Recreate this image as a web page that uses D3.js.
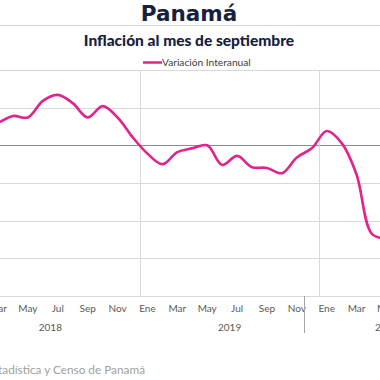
<!DOCTYPE html>
<html><head><meta charset="utf-8">
<script src="https://cdn.jsdelivr.net/npm/d3@7"></script>
<style>body{margin:0;background:#fff;}svg{display:block;}</style>
</head><body>
<svg id="c" width="380" height="380"></svg>
<script>
const monthNames = ["Ene","Feb","Mar","Abr","May","Jun","Jul","Ago","Sep","Oct","Nov","Dic"];
const years = ["2018","2019","2020"];
const months = [
 "2018-01","2018-02","2018-03","2018-04","2018-05","2018-06","2018-07","2018-08","2018-09","2018-10","2018-11","2018-12",
 "2019-01","2019-02","2019-03","2019-04","2019-05","2019-06","2019-07","2019-08","2019-09","2019-10","2019-11","2019-12",
 "2020-01","2020-02","2020-03","2020-04","2020-05","2020-06","2020-07","2020-08","2020-09"];
const variacion = [
 0.22,0.25,0.30,0.39,0.37,0.59,0.67,0.56,0.37,0.52,0.37,0.11,
 -0.11,-0.25,-0.09,-0.04,0.00,-0.26,-0.14,-0.29,-0.30,-0.37,-0.16,-0.04,
 0.19,0.03,-0.39,-1.17,-1.26,-1.45,-1.70,-1.85,-1.95];
const yTicks = [1.0,0.5,0,-0.5,-1.0,-1.5,-2.0];
const title = "Panamá";
const subtitle = "Inflación al mes de septiembre";
const seriesName = "Variación Interanual";
const source = "Fuente: Instituto Nacional de Estadística y Censo de Panamá";

const svg = d3.select("#c");
const font = "Lato, 'DejaVu Sans', sans-serif";
const pink = "#e2238c";
const navy = "#15213f";

const x = d3.scaleBand().domain(months).range([-39.3, -39.3 + 14.94*months.length]);
const y = d3.scaleLinear().domain([-2, 1]).range([296, 70]);
const cx = m => x(m) + x.bandwidth()/2;

// title
svg.append("text").attr("x",189).attr("y",21).attr("text-anchor","middle")
  .attr("font-family","'DejaVu Sans', sans-serif").attr("font-weight","bold").attr("font-size",21.5)
  .attr("fill",navy).text(title);
svg.append("line").attr("x1",0).attr("x2",380).attr("y1",25.5).attr("y2",25.5)
  .attr("stroke","#d9d9d9").attr("stroke-width",1);
svg.append("text").attr("x",189).attr("y",46).attr("text-anchor","middle")
  .attr("font-family",font).attr("font-weight",900).attr("font-size",15.5)
  .attr("fill",navy).text(subtitle);

// legend
svg.append("line").attr("x1",143).attr("x2",162).attr("y1",62.5).attr("y2",62.5)
  .attr("stroke",pink).attr("stroke-width",2.5);
svg.append("text").attr("x",162).attr("y",66).attr("font-family",font)
  .attr("font-size",10.2).attr("fill","#404040").text(seriesName);

// gridlines
const g = svg.append("g");
g.selectAll("line.h").data(yTicks).join("line").attr("class","h")
  .attr("x1",0).attr("x2",380)
  .attr("y1",d=>Math.round(y(d))+0.5).attr("y2",d=>Math.round(y(d))+0.5)
  .attr("stroke",d=>d===0?"#8c8c8c":"#d9d9d9").attr("stroke-width",1);
const yearStarts = years.slice(1).map(yr => yr+"-01");
g.selectAll("line.v").data(yearStarts).join("line").attr("class","v")
  .attr("x1",d=>Math.round(x(d))+0.5).attr("x2",d=>Math.round(x(d))+0.5)
  .attr("y1",70).attr("y2",296).attr("stroke","#d9d9d9").attr("stroke-width",1);

// x axis labels
const tickMonths = months.filter(m => (+m.slice(5)-1)%2===0);
svg.append("g").selectAll("text").data(tickMonths).join("text")
  .attr("x",cx).attr("y",312).attr("text-anchor","middle")
  .attr("font-family",font).attr("font-size",10).attr("fill","#595959")
  .text(m => monthNames[+m.slice(5)-1]);
svg.append("g").selectAll("text").data(years).join("text")
  .attr("x",yr => {
     const ms = months.filter(m=>m.startsWith(yr));
     return (x(ms[0]) + x(ms[ms.length-1]) + x.bandwidth())/2;
  }).attr("y",331).attr("text-anchor","middle")
  .attr("font-family",font).attr("font-size",10).attr("fill","#595959").text(d=>d);
const sep = Math.round(x("2019-12"))+0.5;
svg.append("line").attr("x1",sep).attr("x2",sep).attr("y1",296).attr("y2",333)
  .attr("stroke","#a6a6a6").attr("stroke-width",1);

// line
const line = d3.line().x((d,i)=>cx(months[i])).y(d=>y(d)).curve(d3.curveCatmullRom.alpha(0.5));
svg.append("path").datum(variacion).attr("d",line).attr("fill","none")
  .attr("stroke",pink).attr("stroke-width",2.6).attr("stroke-linejoin","round");

// source
svg.append("text").attr("x",145).attr("y",374).attr("text-anchor","end")
  .attr("font-family",font).attr("font-size",11.8).attr("fill","#a0a0a0").text(source);
</script>
</body></html>
